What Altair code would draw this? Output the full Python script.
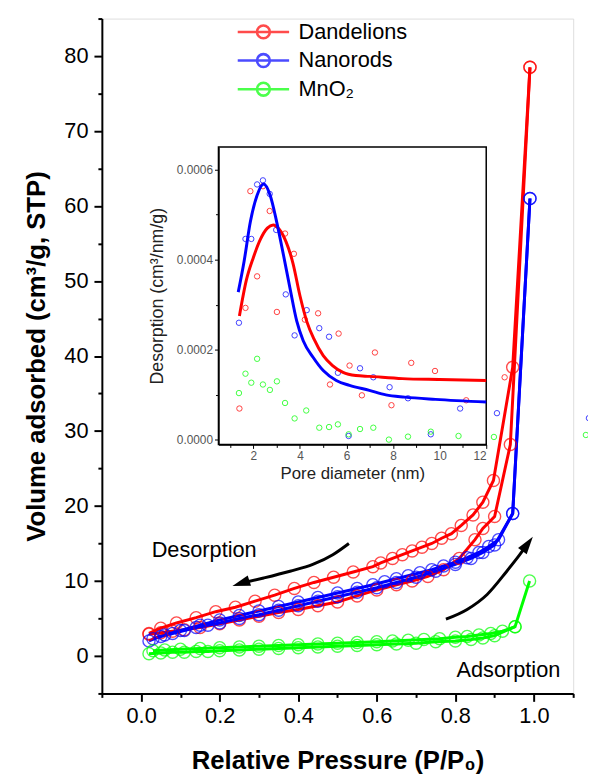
import altair as alt
import pandas as pd

# ---------------- series ----------------
series_names = ["Dandelions", "Nanorods", "MnO\u2082"]
series_colors = ["#ff0000", "#0000ff", "#00ff00"]

# ---------------- main isotherms (P/P0, cm3/g) ----------------
dand_ads_p = [0.02, 0.05, 0.08, 0.11, 0.15, 0.2, 0.25, 0.3, 0.35, 0.4, 0.45, 0.5, 0.55, 0.6,
              0.65, 0.69, 0.73, 0.77, 0.81, 0.85, 0.87, 0.9, 0.94, 0.99]
dand_ads_v = [2.9, 3.1, 3.3, 3.5, 3.8, 4.3, 4.8, 5.3, 5.8, 6.2, 6.7, 7.2, 8.0, 8.8,
              9.5, 10.0, 10.6, 11.5, 13.0, 15.5, 17.0, 18.6, 28.2, 78.5]
dand_des_p = [0.99, 0.946, 0.897, 0.87, 0.845, 0.815, 0.79, 0.765, 0.74, 0.715, 0.69, 0.665,
              0.64, 0.61, 0.59, 0.54, 0.49, 0.44, 0.39, 0.34, 0.29, 0.24, 0.19, 0.14, 0.09, 0.05, 0.02]
dand_des_v = [78.5, 38.5, 23.4, 20.5, 18.8, 17.4, 16.3, 15.7, 15.0, 14.5, 14.0, 13.5,
              13.0, 12.4, 11.9, 11.2, 10.5, 9.8, 9.0, 8.1, 7.3, 6.5, 5.9, 5.1, 4.4, 3.7, 3.0]

nano_ads_p = [0.02, 0.05, 0.08, 0.11, 0.14, 0.17, 0.2, 0.25, 0.3, 0.35, 0.4, 0.45, 0.5, 0.55,
              0.6, 0.65, 0.7, 0.75, 0.8, 0.84, 0.87, 0.9, 0.946, 0.99]
nano_ads_v = [2.0, 2.6, 3.0, 3.4, 3.8, 4.1, 4.4, 5.0, 5.5, 6.1, 6.7, 7.3, 7.9, 8.5,
              9.1, 9.8, 10.5, 11.3, 12.2, 13.0, 13.8, 14.8, 19.0, 61.0]
nano_des_p = [0.99, 0.946, 0.91, 0.885, 0.86, 0.83, 0.8, 0.77, 0.74, 0.71, 0.68, 0.65, 0.62,
              0.59, 0.55, 0.5, 0.45, 0.4, 0.35, 0.3, 0.25, 0.2, 0.15, 0.1, 0.06, 0.03]
nano_des_v = [61.0, 19.0, 15.5, 14.6, 13.8, 13.1, 12.5, 12.0, 11.5, 11.1, 10.7, 10.3, 9.9,
              9.5, 9.0, 8.4, 7.8, 7.2, 6.6, 6.0, 5.4, 4.8, 4.1, 3.4, 2.8, 2.3]

mno2_ads_p = [0.02, 0.05, 0.08, 0.11, 0.14, 0.17, 0.2, 0.25, 0.3, 0.35, 0.4, 0.45, 0.5, 0.55,
              0.6, 0.65, 0.7, 0.75, 0.8, 0.84, 0.87, 0.9, 0.952, 0.989]
mno2_ads_v = [0.3, 0.4, 0.5, 0.5, 0.6, 0.6, 0.7, 0.8, 0.9, 1.0, 1.1, 1.2, 1.3, 1.4,
              1.5, 1.6, 1.7, 1.9, 2.0, 2.2, 2.4, 2.7, 3.9, 10.0]
mno2_des_p = [0.952, 0.92, 0.89, 0.86, 0.83, 0.8, 0.76, 0.72, 0.68, 0.64, 0.6, 0.55, 0.5,
              0.45, 0.4, 0.35, 0.3, 0.25, 0.2, 0.15, 0.1, 0.06, 0.03]
mno2_des_v = [3.9, 3.3, 3.0, 2.8, 2.6, 2.5, 2.3, 2.2, 2.1, 2.0, 1.9, 1.8, 1.7,
              1.6, 1.5, 1.4, 1.3, 1.2, 1.1, 1.0, 0.9, 0.8, 0.7]

# ---------------- inset: pore size distribution ----------------
dand_pore_d = [1.40, 1.66, 1.87, 2.16, 2.41, 2.70, 3.01, 3.36, 3.74, 4.21, 4.78, 5.29, 5.66,
               6.13, 6.66, 7.22, 7.93, 8.78, 9.80, 11.14, 12.79]
dand_pore_v = [0.0000697, 0.000293, 0.000552, 0.000363, 0.000563, 0.000508, 0.000284, 0.000458,
               0.000413, 0.000267, 0.000281, 0.000123, 0.000236, 0.000165, 0.0000990, 0.000194,
               0.0000770, 0.000171, 0.000153, 0.0000880, 0.000139]
nano_pore_d = [1.38, 1.66, 1.91, 2.16, 2.41, 2.70, 2.98, 3.39, 3.77, 4.29, 4.83, 5.25, 5.63,
               6.09, 6.58, 7.15, 7.85, 8.64, 9.62, 10.88, 12.46, 16.41]
nano_pore_v = [0.000260, 0.000446, 0.000446, 0.000567, 0.000576, 0.000546, 0.000466, 0.000323,
               0.000232, 0.000288, 0.000248, 0.000229, 0.000149, 0.0000088, 0.000159, 0.000139,
               0.000117, 0.0000924, 0.0000125, 0.0000697, 0.0000594, 0.0000484]
mno2_pore_d = [1.38, 1.66, 1.91, 2.16, 2.41, 2.71, 3.01, 3.36, 3.77, 4.27, 4.83, 5.25, 5.63,
               6.09, 6.58, 7.15, 7.82, 8.64, 9.62, 10.81, 12.33, 16.28]
mno2_pore_v = [0.000104, 0.000147, 0.000127, 0.000180, 0.000123, 0.000111, 0.000130, 0.0000820,
               0.0000477, 0.0000653, 0.0000271, 0.0000286, 0.0000345, 0.0000125, 0.0000242,
               0.0000271, 0.0000007, 0.0000073, 0.0000183, 0.0000088, 0.0000066, 0.0000110]

dand_fit_d = [1.4, 1.7, 2.0, 2.3, 2.6, 2.85, 3.1, 3.4, 3.7, 4.0, 4.3, 4.6, 5.0, 5.4, 5.85,
              6.4, 7.0, 8.4, 10.0, 12.0]
dand_fit_v = [0.000275, 0.000355, 0.000405, 0.000445, 0.000470, 0.000477, 0.000468, 0.000440,
              0.000392, 0.000320, 0.000262, 0.000224, 0.000187, 0.000165, 0.000150, 0.000143,
              0.000141, 0.000136, 0.000134, 0.000132]
nano_fit_d = [1.35, 1.6, 1.87, 2.16, 2.44, 2.72, 3.0, 3.29, 3.57, 3.86, 4.14, 4.57, 5.0, 5.56,
              6.13, 6.98, 7.69, 8.5, 9.82, 12.0]
nano_fit_v = [0.000328, 0.000396, 0.000484, 0.000543, 0.000568, 0.000543, 0.000484, 0.000411,
              0.000337, 0.000264, 0.000220, 0.000183, 0.000154, 0.000132, 0.000121, 0.000110,
              0.000100, 0.0000950, 0.0000900, 0.0000840]

# ---------------- annotations ----------------
des_arrow_p = [0.529, 0.488, 0.437, 0.379, 0.312, 0.254]
des_arrow_v = [15.0, 13.5, 12.2, 11.3, 10.4, 9.68]
ads_arrow_p = [0.776, 0.83, 0.881, 0.931, 0.964, 0.984]
ads_arrow_v = [4.9, 6.2, 8.2, 11.3, 13.5, 14.94]
note_text = ["Desorption", "Adsorption"]
note_p = [0.1605, 0.935]
note_v = [13.25, -2.87]

# ---------------- tick values ----------------
main_x_ticks = [-0.1, 0.0, 0.1, 0.2, 0.3, 0.4, 0.5, 0.6, 0.7, 0.8, 0.9, 1.0, 1.1]
main_y_ticks = [-5, 0, 5, 10, 15, 20, 25, 30, 35, 40, 45, 50, 55, 60, 65, 70, 75, 80, 85]
inset_x_ticks = [1, 2, 3, 4, 5, 6, 7, 8, 9, 10, 11, 12]
inset_y_ticks = [0.0, 0.0001, 0.0002, 0.0003, 0.0004, 0.0005, 0.0006]

# ---------------- tables ----------------
iso_rows = []
for name, parts in zip(series_names, [
        [("ads", dand_ads_p, dand_ads_v), ("des", dand_des_p, dand_des_v)],
        [("ads", nano_ads_p, nano_ads_v), ("des", nano_des_p, nano_des_v)],
        [("ads", mno2_ads_p, mno2_ads_v), ("des", mno2_des_p, mno2_des_v)]]):
    for branch, ps, vs in parts:
        for p, v in zip(ps, vs):
            iso_rows.append({"series": name, "branch": name + "-" + branch, "p": p, "v": v})
iso_df = pd.DataFrame(iso_rows)

pore_rows = []
for name, ds, vs in zip(series_names, [dand_pore_d, nano_pore_d, mno2_pore_d],
                        [dand_pore_v, nano_pore_v, mno2_pore_v]):
    for d, v in zip(ds, vs):
        pore_rows.append({"series": name, "d": d, "dv": v})
pore_df = pd.DataFrame(pore_rows)

fit_rows = []
for name, ds, vs in zip(series_names[:2], [dand_fit_d, nano_fit_d], [dand_fit_v, nano_fit_v]):
    for d, v in zip(ds, vs):
        fit_rows.append({"series": name, "d": d, "dv": v})
fit_df = pd.DataFrame(fit_rows)

des_arrow_df = pd.DataFrame({"p": des_arrow_p, "v": des_arrow_v})
ads_arrow_df = pd.DataFrame({"p": ads_arrow_p, "v": ads_arrow_v})
note_df = pd.DataFrame({"t": note_text, "p": note_p, "v": note_v})

FONT = "Liberation Sans"
W, H = 477, 683

color_scale = alt.Scale(domain=series_names, range=series_colors)
# legend glyph: a line with an open circle on it (symbol box is 30 px; the line runs past it
# to the right so the entry rows stay compact)
legend_path = ("M-1,0H2.467"
               "M1.166,0C1.166,0.239,0.972,0.433,0.733,0.433C0.494,0.433,0.3,0.239,0.3,0"
               "C0.3,-0.239,0.494,-0.433,0.733,-0.433C0.972,-0.433,1.166,-0.239,1.166,0Z")
legend_spec = alt.Legend(
    title=None, orient="none", legendX=136, legendY=-3,
    symbolType=legend_path, symbolSize=900, symbolStrokeWidth=2.6,
    symbolFillColor="transparent", labelFontSize=22, labelFont=FONT, labelColor="black",
    labelOffset=30, rowPadding=0, padding=0,
)
# the same stroke encoding (and legend) everywhere, so that the legends merge into one
series_stroke = alt.Stroke("series:N", scale=color_scale, legend=legend_spec)

main_x_axis = alt.Axis(
    values=main_x_ticks, title="Relative Pressure (P/P\u2080)",
    labelExpr="abs(round(datum.value*10)) % 2 == 0 ? format(datum.value, '.1f') : ''",
    tickSize={"condition": {"test": "abs(round(datum.value*10)) % 2 == 0", "value": 8}, "value": 4},
    labelFontSize=22, titleFontSize=26, titleFontWeight="bold", labelPadding=4, titlePadding=22,
    domainWidth=2, tickWidth=2, domainColor="black", tickColor="black", labelColor="black",
    titleColor="black", grid=False, labelFont=FONT, titleFont=FONT, labelOverlap=False,
)
main_y_axis = alt.Axis(
    values=main_y_ticks, title="Volume adsorbed (cm\u00b3/g, STP)",
    labelExpr="abs(round(datum.value)) % 10 == 0 ? format(datum.value, 'd') : ''",
    tickSize={"condition": {"test": "abs(round(datum.value)) % 10 == 0", "value": 8}, "value": 4},
    labelFontSize=22, titleFontSize=26, titleFontWeight="bold", labelPadding=6, titlePadding=15,
    domainWidth=2, tickWidth=2, domainColor="black", tickColor="black", labelColor="black",
    titleColor="black", grid=False, labelFont=FONT, titleFont=FONT, labelOverlap=False,
)
mx = alt.X("p:Q", scale=alt.Scale(domain=[-0.1, 1.1], nice=False, zero=False), axis=main_x_axis)
my = alt.Y("v:Q", scale=alt.Scale(domain=[-5, 85], nice=False, zero=False), axis=main_y_axis)

iso_lines = alt.Chart(iso_df).mark_line(strokeWidth=3).encode(
    x=mx, y=my, detail="branch:N", stroke=series_stroke)
iso_points = alt.Chart(iso_df).mark_point(shape="circle", filled=False, size=150, strokeWidth=1.4).encode(
    x=mx, y=my, stroke=series_stroke)
des_arrow = alt.Chart(des_arrow_df).mark_line(color="black", strokeWidth=3, interpolate="monotone").encode(x=mx, y=my)
ads_arrow = alt.Chart(ads_arrow_df).mark_line(color="black", strokeWidth=3, interpolate="monotone").encode(x=mx, y=my)
head_shape = "M0,-1L0.6,1L-0.6,1Z"
des_head = alt.Chart(des_arrow_df.tail(1)).mark_point(
    shape=head_shape, filled=True, color="black", size=324, angle=252, opacity=1).encode(x=mx, y=my)
ads_head = alt.Chart(ads_arrow_df.tail(1)).mark_point(
    shape=head_shape, filled=True, color="black", size=324, angle=36, opacity=1).encode(x=mx, y=my)
notes = alt.Chart(note_df).mark_text(font=FONT, fontSize=22, color="black", align="center",
                                      baseline="alphabetic").encode(x=mx, y=my, text="t:N")

main = alt.layer(iso_lines, iso_points, des_arrow, ads_arrow, des_head, ads_head, notes)

# ---------------- inset ----------------
IX0, IX1 = 118, 389
IY0, IY1 = 431, 130
inset_x_axis = alt.Axis(
    values=inset_x_ticks, title="Pore diameter (nm)", orient="bottom", offset=-(H - IY0),
    labelExpr="datum.value % 2 == 0 ? format(datum.value, 'd') : ''",
    tickSize={"condition": {"test": "datum.value % 2 == 0", "value": 4}, "value": 3},
    labelFontSize=12, titleFontSize=17, titleFontWeight="normal", labelPadding=2, titlePadding=4,
    domainWidth=1.5, tickWidth=1, domainColor="black", tickColor="black", labelColor="#555555",
    titleColor="#222222", grid=False, labelFont=FONT, titleFont=FONT, labelOverlap=False,
)
inset_y_axis = alt.Axis(
    values=inset_y_ticks, title="Desorption (cm\u00b3/nm/g)", orient="left", offset=-IX0,
    labelExpr="round(datum.value*10000) % 2 == 0 ? format(datum.value, '.4f') : ''",
    tickSize={"condition": {"test": "round(datum.value*10000) % 2 == 0", "value": 4}, "value": 3},
    labelFontSize=12, titleFontSize=18, titleFontWeight="normal", labelPadding=2, titlePadding=10,
    domainWidth=1.5, tickWidth=1, domainColor="black", tickColor="black", labelColor="#555555",
    titleColor="#222222", grid=False, labelFont=FONT, titleFont=FONT, labelOverlap=False,
)
ix = alt.X("d:Q", scale=alt.Scale(domain=[0.5, 12], range=[IX0, IX1], nice=False, zero=False),
           axis=inset_x_axis)
iy = alt.Y("dv:Q", scale=alt.Scale(domain=[-0.00001, 0.00065], range=[IY0, IY1], nice=False, zero=False),
           axis=inset_y_axis)

frame_df = pd.DataFrame({"d": [0.5], "d2": [12.0], "dv": [-0.00001], "dv2": [0.00065]})
inset_frame = alt.Chart(frame_df).mark_rect(fillOpacity=0, stroke="black", strokeWidth=1.5).encode(
    x=ix, x2="d2:Q", y=iy, y2="dv2:Q")
pore_points = alt.Chart(pore_df).mark_point(shape="circle", filled=False, size=30, strokeWidth=1,
                                            opacity=0.75).encode(x=ix, y=iy, stroke=series_stroke)
fit_lines = alt.Chart(fit_df).mark_line(strokeWidth=3, interpolate="monotone").encode(
    x=ix, y=iy, stroke=series_stroke)

inset = alt.layer(inset_frame, pore_points, fit_lines)

chart = alt.layer(main, inset).resolve_scale(x="independent", y="independent").properties(
    width=W, height=H,
    autosize=alt.AutoSizeParams(type="none"),
    padding={"left": 95, "top": 6, "right": 15, "bottom": 90},
).configure_view(stroke="black", strokeWidth=2).configure(background="white")

chart.save("out.html", embed_options={"renderer": "svg", "actions": False})
